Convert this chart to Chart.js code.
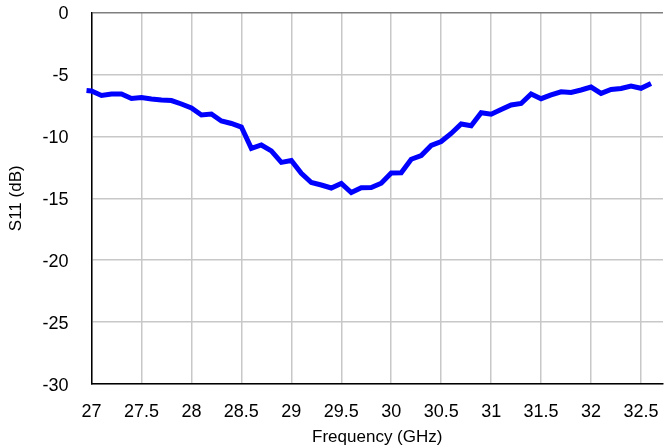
<!DOCTYPE html>
<html>
<head>
<meta charset="utf-8">
<script src="https://cdn.jsdelivr.net/npm/chart.js@4"></script>
<style>
  html, body { margin: 0; padding: 0; background: #fff; }
  #wrap { width: 665px; height: 448px; position: relative; }
</style>
</head>
<body>
<div id="wrap"><canvas id="s11Chart"></canvas></div>
<script>
// frequency points in GHz
const freq = [
    26.95, 27.0, 27.1, 27.2, 27.3, 27.4, 27.5, 27.6, 27.7, 27.8, 27.9,
    28.0, 28.1, 28.2, 28.3, 28.4, 28.5, 28.6, 28.7, 28.8, 28.9,
    29.0, 29.1, 29.2, 29.3, 29.4, 29.5, 29.6, 29.7, 29.8, 29.9,
    30.0, 30.1, 30.2, 30.3, 30.4, 30.5, 30.6, 30.7, 30.8, 30.9,
    31.0, 31.1, 31.2, 31.3, 31.4, 31.5, 31.6, 31.7, 31.8, 31.9,
    32.0, 32.1, 32.2, 32.3, 32.4, 32.5, 32.6
];
// S11 in dB
const s11 = [
    -6.30, -6.34, -6.70, -6.58, -6.58, -6.94, -6.86, -6.98, -7.07, -7.11, -7.39,
    -7.71, -8.28, -8.20, -8.76, -8.96, -9.25, -10.97, -10.70, -11.18, -12.10,
    -11.95, -12.99, -13.73, -13.93, -14.17, -13.81, -14.54, -14.15, -14.13, -13.79,
    -12.96, -12.94, -11.85, -11.55, -10.74, -10.42, -9.77, -9.00, -9.14, -8.09,
    -8.21, -7.83, -7.47, -7.35, -6.58, -6.96, -6.66, -6.40, -6.46, -6.26,
    -6.02, -6.53, -6.22, -6.14, -5.94, -6.12, -5.73
];

const X_MIN = 27, X_MAX = 32.72;
const Y_MIN = -30, Y_MAX = 0;

document.addEventListener('DOMContentLoaded', function() {
    const ctx = document.getElementById('s11Chart');
    const font = 'Liberation Sans, Arial, sans-serif';

    new Chart(ctx, {
        type: 'line',
        data: {
            datasets: [{
                label: 'S11',
                data: freq.map((f, i) => ({ x: f, y: s11[i] })),
                borderColor: '#0000ff',
                borderWidth: 5,
                pointRadius: 0,
                tension: 0,
                fill: false,
                clip: { left: 8, top: 5, right: 5, bottom: 5 }
            }]
        },
        options: {
            responsive: true,
            maintainAspectRatio: false,
            animation: false,
            layout: {
                padding: { top: 12.5, right: 2, left: 0, bottom: 0 }
            },
            plugins: {
                legend: { display: false },
                tooltip: { enabled: false }
            },
            scales: {
                x: {
                    type: 'linear',
                    min: X_MIN,
                    max: X_MAX,
                    // fixed box so the plot area lands where the reference has it
                    afterFit: s => { s.height = 64; s.paddingLeft = 0; s.paddingRight = 0; },
                    border: { color: '#000', width: 1.5 },
                    grid: { color: '#c8c8c8', lineWidth: 1.5, drawTicks: false },
                    ticks: {
                        stepSize: 0.5,
                        includeBounds: false,
                        padding: 17,
                        color: '#000',
                        font: { size: 18, family: font },
                        maxRotation: 0,
                        autoSkip: false,
                        callback: v => String(Number(v.toFixed(1)))
                    },
                    title: {
                        display: true,
                        text: 'Frequency (GHz)',
                        color: '#000',
                        font: { size: 17, family: font },
                        padding: { top: 0, bottom: 0 }
                    }
                },
                y: {
                    min: Y_MIN,
                    max: Y_MAX,
                    afterFit: s => { s.width = 91.5; s.paddingTop = 0; s.paddingBottom = 0; },
                    border: { color: '#000', width: 1.5 },
                    grid: {
                        color: c => c.tick && c.tick.value === 0 ? '#7f7f7f' : '#c8c8c8',
                        lineWidth: 1.5,
                        drawTicks: false
                    },
                    ticks: {
                        stepSize: 5,
                        padding: 23,
                        labelOffset: 2,
                        color: '#000',
                        font: { size: 18, family: font }
                    },
                    title: {
                        display: true,
                        text: 'S11 (dB)',
                        color: '#000',
                        font: { size: 17, family: font },
                        padding: { top: 6, bottom: 0 }
                    }
                }
            }
        }
    });
});
</script>
</body>
</html>
